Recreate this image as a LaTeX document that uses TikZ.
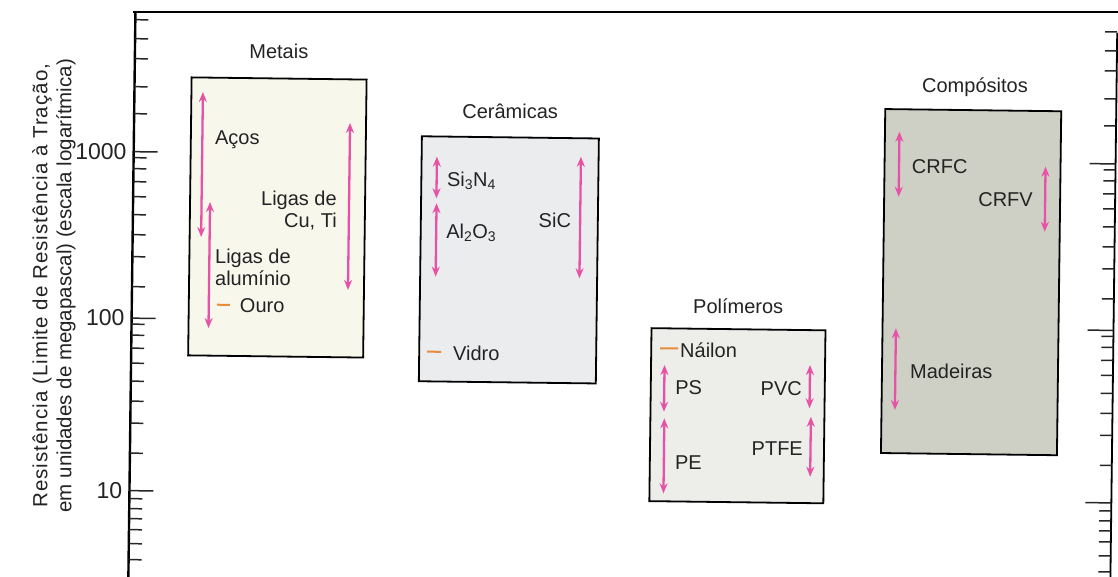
\documentclass[tikz,border=0pt]{standalone}
\usepackage{fontspec}
\setmainfont{Liberation Sans}
\usetikzlibrary{arrows.meta}
\definecolor{arr}{RGB}{230,82,166}
\definecolor{tickc}{RGB}{232,140,60}
\definecolor{metfill}{RGB}{248,247,236}
\definecolor{cerfill}{RGB}{235,236,238}
\definecolor{polfill}{RGB}{237,237,234}
\definecolor{compfill}{RGB}{207,208,197}
\definecolor{txt}{RGB}{35,35,35}
\begin{document}
\begin{tikzpicture}[x=1pt,y=-1pt,
  box/.style={draw=black,line width=1.8pt},
  rng/.style={draw=arr,line width=2.3pt,{Stealth[length=10pt,width=8pt]}-{Stealth[length=10pt,width=8pt]}},
  pt/.style={draw=tickc,line width=2pt},
  tk/.style={line width=1.5pt,draw=black!85},
  lbl/.style={font=\fontsize{20}{22}\selectfont,text=txt,inner sep=0pt},
  ttl/.style={font=\fontsize{20.5}{24}\selectfont,text=txt,inner sep=0pt},
  num/.style={font=\fontsize{23}{26}\selectfont,text=txt,inner sep=0pt,anchor=east}]
\fill[white] (0,0) rectangle (1118,576);
\useasboundingbox (0,0) rectangle (1118,576);
\clip (0,0) rectangle (1118,576);
\draw[line width=1.8pt] (133,12) -- (1118,12);
\begin{scope}[rotate around={-0.716:(560,288)}]
  % axes
  \draw[line width=2.4pt] (132,17) -- (132,600);
  \draw[line width=1.8pt] (1114,26) -- (1114,600);
  % major ticks
  \foreach \y in {157,323.5,496} {
    \draw[tk] (132,\y) -- ++(24,0);
    \draw[tk] (1114,\y) -- ++(-26,0);
  }
  % minor ticks
  \foreach \y in {119,92,64,44,25,163,174,187,202,220,240,262,292,329.5,340.5,353.5,368.5,386.5,406.5,428.5,458.5,504,514,524,535,549,565} {
    \draw[tk] (132,\y) -- ++(13,0);
    \draw[tk] (1114,\y) -- ++(-12,0);
  }
  % axis numbers
  \node[num] (n1000) at (125,157) {1000};
  \node[num] (n100) at (125,323.5) {100};
  \node[num] (n10) at (125,496) {10};
  % axis title
  \node[ttl,rotate=90,align=center] (title) at (54,292) {{\addfontfeature{LetterSpace=5}Resistência (Limite de Resistência à Tração,}\\em unidades de megapascal) (escala logarítmica)};

  % boxes
  \draw[box,fill=metfill] (189,82) rectangle (364,360);
  \draw[box,fill=cerfill] (420,138) rectangle (597,383);
  \draw[box,fill=polfill] (652,327) rectangle (826,500);
  \draw[box,fill=compfill] (883,105) rectangle (1059,449);

  % group labels
  \node[lbl,anchor=base] (metais) at (276,62.5) {Metais};
  \node[lbl,anchor=base] (ceram) at (508,119.3) {Cerâmicas};
  \node[lbl,anchor=base] (polim) at (738.5,311.5) {Polímeros};
  \node[lbl,anchor=base] (compo) at (972.5,87) {Compósitos};

  % metals
  \draw[rng] (200.5,96.5) -- (200.5,241.5);
  \draw[rng] (209,206.4) -- (209,332.4);
  \draw[rng] (348,125.6) -- (348,292.6);
  \draw[pt] (217,309) -- (230,309);
  \node[lbl,anchor=west] (acos) at (213,144) {Aços};
  \node[lbl,anchor=east,align=right] (cuti) at (336,213) {Ligas de\\Cu, Ti};
  \node[lbl,anchor=west,align=left] (alum) at (214.7,272) {Ligas de\\alumínio};
  \node[lbl,anchor=west] (ouro) at (240,309.5) {Ouro};

  % ceramics
  \draw[rng] (435.3,158.2) -- (435.3,199.8);
  \draw[rng] (435.5,204.8) -- (435.5,278.2);
  \draw[rng] (579.3,156.5) -- (579.3,278);
  \draw[pt] (428,353.3) -- (442,353.3);
  \node[lbl,anchor=west] (si3n4) at (445.5,182) {Si\textsubscript{3}N\textsubscript{4}};
  \node[lbl,anchor=west] (al2o3) at (445.4,234) {Al\textsubscript{2}O\textsubscript{3}};
  \node[lbl] (sic) at (554,220) {SiC};
  \node[lbl,anchor=west] (vidro) at (453.8,354.5) {Vidro};

  % polymers
  \draw[rng] (665.5,363.7) -- (665.5,410.4);
  \draw[rng] (666,417) -- (666,492);
  \draw[rng] (811,361.9) -- (811,405.2);
  \draw[rng] (812.5,413.6) -- (812.5,473.6);
  \draw[pt] (660.8,347) -- (678.8,347);
  \node[lbl,anchor=west] (nailon) at (680.8,348.7) {Náilon};
  \node[lbl,anchor=west] (ps) at (676.3,386.5) {PS};
  \node[lbl,anchor=east] (pvc) at (803.3,385.6) {PVC};
  \node[lbl,anchor=east] (ptfe) at (805,445.6) {PTFE};
  \node[lbl,anchor=west] (pe) at (677,461.6) {PE};

  % composites
  \draw[rng] (897.5,127.5) -- (897.5,192.5);
  \draw[rng] (1044,160.6) -- (1044,225.7);
  \draw[rng] (896.4,324.1) -- (896.4,405.8);
  \node[lbl,anchor=west] (crfc) at (910.2,162.3) {CRFC};
  \node[lbl,anchor=west] (crfv) at (977,194.8) {CRFV};
  \node[lbl,anchor=west] (madeiras) at (911,367.3) {Madeiras};
\end{scope}
\end{tikzpicture}
\end{document}
